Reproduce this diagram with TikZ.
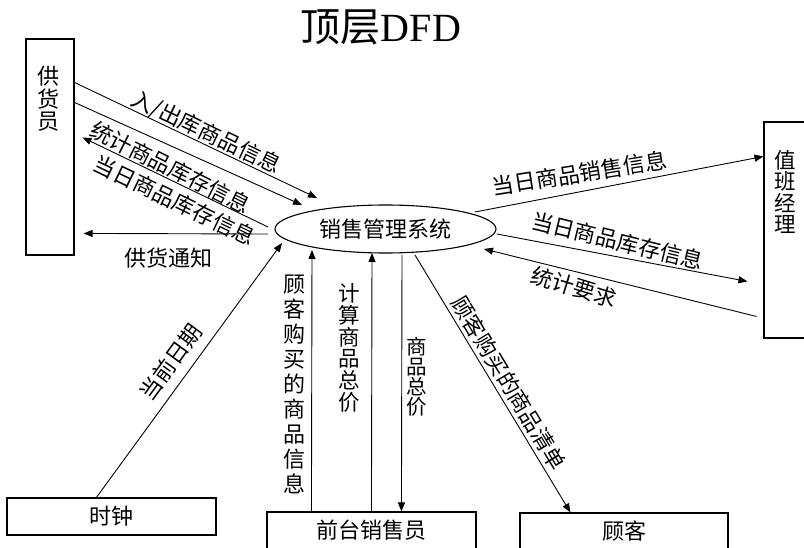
\documentclass[tikz,border=0pt]{standalone}
\usepackage{fontspec}
\setmainfont{Liberation Serif}
\newfontfamily\cjk{Noto Sans CJK SC}
\usetikzlibrary{arrows.meta,shapes.geometric}
\begin{document}
\setlength{\lineskiplimit}{-20pt}%
\begin{tikzpicture}[x=1pt,y=-1pt,
  box/.style={draw, line width=1.1pt, inner sep=0pt},
  lab/.style={font=\cjk\fontsize{22}{25}\selectfont, inner sep=0pt},
  vlab/.style={lab, align=center},
  flow/.style={line width=0.9pt, -{Triangle[length=9pt,width=7pt]}},
  rflow/.style={line width=0.9pt, {Triangle[length=9pt,width=7pt]}-},
]
\fill[white] (0,0) rectangle (804,548);
\useasboundingbox (0,0) rectangle (804,548);

\node[font=\fontsize{40}{42}\selectfont, inner sep=0pt] (title) at (381,27) {{\cjk 顶层}DFD};

% entities
\node[box, minimum width=48pt, minimum height=216pt] (sup) at (50,147) {};
\node[vlab, font=\cjk\fontsize{22}{22.5}\selectfont] (suptxt) at (48,99) {供\\货\\员};
\node[box, minimum width=60pt, minimum height=216pt] (mgr) at (794,230) {};
\node[vlab, font=\cjk\fontsize{21.5}{21.5}\selectfont] (mgrtxt) at (785,192) {值\\班\\经\\理};
\node[box, lab, minimum width=209pt, minimum height=37pt] (clock) at (111.5,516.5) {时钟};
\node[box, lab, minimum width=209pt, minimum height=37pt] (fs) at (371.5,530.5) {前台销售员};
\node[box, lab, minimum width=208pt, minimum height=37pt] (cust) at (624,531.5) {顾客};

% process
\node[lab, draw, ellipse, line width=1.1pt, minimum width=221pt, minimum height=48pt] (sys) at (385.5,229) {销售管理系统};

% connector ends near the process
\coordinate (c1) at (317,198);
\coordinate (c2) at (302,205);
\coordinate (c3) at (268,227);
\coordinate (c4) at (268,234);
\coordinate (c5) at (282,243);
\coordinate (c6) at (312,250);
\coordinate (c7) at (372,253);
\coordinate (c8) at (402,255);
\coordinate (c9) at (415,255);
\coordinate (c10) at (475,212);
\coordinate (c11) at (497,234);
\coordinate (c12) at (484,249);

% flows with the supplier
\draw[flow] ([yshift=-44pt]sup.north east) -- (c1)
  node[lab, sloped, pos=0.522, above=-0.5pt] {入/出库商品信息};
\draw[flow] ([yshift=-64pt]sup.north east) -- (c2)
  node[lab, sloped, pos=0.459, below=9pt, rotate=-2.5] {统计商品库存信息};
\draw[rflow] ([xshift=8pt,yshift=-99pt]sup.north east) -- (c3)
  node[lab, sloped, pos=0.534, below=6pt] {当日商品库存信息};
\draw[rflow] ([xshift=9pt,yshift=-195pt]sup.north east) -- (c4)
  node[lab, pos=0.46, below=14pt] {供货通知};

% clock
\draw[flow] ([xshift=90pt]clock.north west) -- (c5)
  node[lab, sloped, pos=0.487, above=9pt] {当前日期};

% front desk
\draw[flow] ([xshift=45pt]fs.north west) -- (c6)
  node[vlab, pos=0.485, left=6pt] {顾\\客\\购\\买\\的\\商\\品\\信\\息};
\draw[flow] ([xshift=105pt]fs.north west) -- (c7)
  node[vlab, font=\cjk\fontsize{21.5}{21.8}\selectfont, pos=0.633, left=11pt] {计\\算\\商\\品\\总\\价};
\draw[flow] (c8) -- ([xshift=135pt]fs.north west)
  node[vlab, font=\cjk\fontsize{20.5}{20}\selectfont, pos=0.475, right=4.5pt] {商\\品\\总\\价};

% customer
\draw[flow] (c9) -- ([xshift=51pt]cust.north west)
  node[lab, sloped, pos=0.526, above=3.5pt] {顾客购买的商品清单};

% manager
\draw[flow] (c10) -- ([yshift=-35pt]mgr.north west)
  node[lab, sloped, pos=0.373, above=7.5pt, rotate=-2] {当日商品销售信息};
\draw[flow] (c11) -- ([xshift=-16pt,yshift=-160pt]mgr.north west)
  node[lab, sloped, pos=0.468, above=5pt, rotate=-3] {当日商品库存信息};
\draw[rflow] (c12) -- ([xshift=-7pt,yshift=-195pt]mgr.north west)
  node[lab, sloped, pos=0.347, below=4.5pt, rotate=-3] {统计要求};
\end{tikzpicture}
\end{document}
